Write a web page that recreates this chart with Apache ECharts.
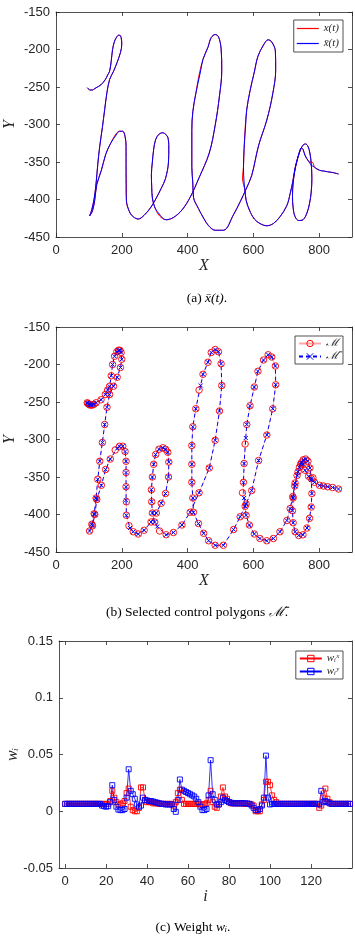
<!DOCTYPE html>
<html>
<head>
<meta charset="utf-8">
<script src="https://cdn.jsdelivr.net/npm/echarts@6/dist/echarts.min.js"></script>
<style>
  html, body { margin: 0; padding: 0; background: #fff; }
  #chart { width: 355px; height: 941px; }
</style>
</head>
<body>
<div id="chart"></div>
<script>
// control polygon M (red)
var mX = [95, 97, 100, 103, 107, 111, 115, 122, 137, 150, 157, 163, 168, 172, 178, 185, 190, 194, 198, 200,
  196, 186, 175, 163, 155, 148, 141, 133, 127, 122, 116, 109, 102, 111, 118, 124, 138, 151, 165, 180,
  193, 203, 210, 213, 213, 213, 214, 214, 222, 235, 250, 268, 289, 305, 320, 333, 342, 343, 340, 333,
  325, 313, 303, 297, 293, 290, 291, 293, 300, 315, 335, 357, 383, 408, 435, 466, 484, 497, 504, 502,
  494, 484, 472, 462, 447, 435, 425, 416, 413, 413, 413, 416, 418, 433, 449, 464, 484, 509, 540, 560,
  578, 595, 616, 641, 659, 668, 667, 656, 645, 631, 614, 603, 590, 580, 575, 572, 570, 567, 575, 578,
  588, 603, 620, 641, 661, 681, 702, 712, 720, 727, 736, 744, 752, 759, 766, 772, 776, 778, 776, 771,
  763, 751, 738, 727, 721, 719, 721, 726, 733, 740, 746, 751, 757, 768, 781, 786, 801, 813, 826, 841, 859];
var mY = [-251, -252, -253, -254, -254, -254, -253, -251, -247, -240, -234, -229, -215, -200, -189, -183, -181, -181, -184, -193,
  -204, -217, -229, -240, -257, -280, -304, -329, -353, -378, -399, -413, -422, -415, -400, -380, -361, -340, -326, -314,
  -309, -309, -316, -329, -344, -363, -383, -401, -415, -423, -426, -421, -410, -398, -385, -372, -350, -330, -317, -313,
  -311, -313, -320, -333, -350, -367, -383, -398, -410, -422, -427, -424, -414, -397, -371, -338, -301, -262, -228, -199,
  -183, -180, -184, -197, -213, -234, -259, -283, -308, -333, -357, -378, -397, -412, -425, -435, -441, -441, -420, -403,
  -386, -368, -328, -294, -259, -227, -202, -190, -187, -194, -209, -230, -255, -280, -306, -332, -357, -371, -389, -401,
  -414, -426, -432, -435, -432, -423, -408, -392, -376, -358, -343, -333, -327, -326, -329, -338, -352, -372, -390, -405,
  -418, -427, -428, -423, -411, -395, -378, -362, -348, -337, -331, -333, -341, -349, -351, -357, -361, -362, -363, -364, -366];
// selected control polygon M-bar (blue)
var mbX = [95, 97, 100, 103, 107, 111, 115, 122, 137, 150, 157, 163, 168, 172, 178, 185, 190, 194, 198, 200,
  196, 186, 175, 163, 155, 148, 141, 133, 127, 122, 116, 109, 102, 111, 118, 124, 138, 151, 165, 186,
  193, 203, 210, 213, 213, 213, 213, 214, 225, 235, 250, 268, 289, 305, 320, 333, 342, 343, 340, 333,
  325, 313, 303, 297, 293, 290, 291, 293, 300, 308, 335, 357, 383, 408, 435, 466, 484, 497, 504, 502,
  494, 484, 472, 462, 447, 440, 425, 416, 413, 413, 413, 416, 418, 433, 449, 464, 484, 509, 540, 560,
  578, 595, 616, 641, 659, 668, 667, 656, 645, 631, 614, 603, 590, 580, 577, 572, 570, 572, 575, 578,
  588, 603, 620, 641, 661, 681, 702, 712, 720, 727, 736, 744, 752, 759, 766, 772, 776, 778, 776, 771,
  763, 751, 738, 727, 721, 719, 721, 726, 733, 740, 746, 751, 757, 768, 776, 786, 801, 813, 826, 841, 859];
var mbY = [-251, -252, -253, -254, -254, -254, -253, -251, -247, -240, -234, -229, -215, -200, -189, -183, -181, -181, -184, -193,
  -204, -217, -229, -240, -257, -280, -304, -329, -353, -378, -399, -413, -422, -415, -400, -380, -361, -340, -326, -312,
  -309, -309, -316, -329, -344, -363, -381, -401, -418, -423, -426, -421, -410, -398, -385, -372, -350, -330, -317, -313,
  -311, -313, -320, -333, -350, -367, -383, -398, -410, -416, -427, -424, -414, -397, -371, -338, -301, -262, -228, -199,
  -183, -180, -184, -197, -213, -228, -259, -283, -308, -333, -357, -378, -397, -412, -425, -435, -441, -441, -420, -403,
  -386, -368, -328, -294, -259, -227, -202, -190, -187, -194, -209, -230, -255, -280, -298, -332, -357, -378, -389, -401,
  -414, -426, -432, -435, -432, -423, -408, -392, -376, -358, -343, -333, -327, -326, -329, -338, -352, -372, -390, -405,
  -418, -427, -428, -423, -411, -395, -378, -362, -348, -337, -331, -333, -341, -349, -354, -357, -361, -362, -363, -364, -366];

// weights, i = 0..139
var wX = [0.0065, 0.0065, 0.0065, 0.0065, 0.0065, 0.0065, 0.0065, 0.0065, 0.0065, 0.0065,
  0.0065, 0.0065, 0.0065, 0.0065, 0.0065, 0.0065, 0.0065, 0.0065, 0.0065, 0.0065,
  0.0065, 0.0065, 0.009, 0.018, 0.012, 0.008, 0.006, 0.006, 0.007, 0.009,
  0.016, 0.020, 0.004, 0.001, 0.000, 0.000, 0.003, 0.021, 0.021, 0.010,
  0.008, 0.008, 0.008, 0.007, 0.007, 0.007, 0.0065, 0.0065, 0.0065, 0.0065,
  0.0065, 0.0065, 0.0065, 0.005, 0.008, 0.016, 0.019, 0.010, 0.0065, 0.0065,
  0.0065, 0.0065, 0.0065, 0.0065, 0.0065, 0.0065, 0.006, 0.006, 0.006, 0.007,
  0.010, 0.018, 0.008, 0.004, 0.003, 0.006, 0.013, 0.021, 0.013, 0.011,
  0.008, 0.007, 0.007, 0.007, 0.007, 0.007, 0.007, 0.0068, 0.0065, 0.0065,
  0.0065, 0.006, 0.005, 0.000, 0.000, 0.000, 0.006, 0.010, 0.026, 0.026,
  0.023, 0.014, 0.010, 0.008, 0.0065, 0.0065, 0.0065, 0.0065, 0.0065, 0.0065,
  0.0065, 0.0065, 0.0065, 0.0065, 0.0065, 0.0065, 0.0065, 0.0065, 0.0065, 0.0065,
  0.0065, 0.0065, 0.0065, 0.0065, 0.003, 0.005, 0.012, 0.020, 0.011, 0.008,
  0.0065, 0.0065, 0.0065, 0.0065, 0.0065, 0.0065, 0.0065, 0.0065, 0.0065, 0.0065];
var wY = [0.0065, 0.0065, 0.0065, 0.0065, 0.0065, 0.0065, 0.0065, 0.0065, 0.0065, 0.0065,
  0.0065, 0.0065, 0.0065, 0.0065, 0.0065, 0.0065, 0.0065, 0.0065, 0.005, 0.0045,
  0.004, 0.0045, 0.008, 0.023, 0.010, 0.004, 0.0015, 0.001, 0.001, 0.002,
  0.012, 0.037, 0.018, 0.015, 0.011, 0.006, 0.004, 0.005, 0.012, 0.010,
  0.0095, 0.009, 0.009, 0.0085, 0.008, 0.0075, 0.007, 0.0065, 0.0065, 0.006,
  0.006, 0.006, 0.006, 0.002, -0.0005, 0.010, 0.028, 0.019, 0.018, 0.017,
  0.016, 0.015, 0.014, 0.013, 0.011, 0.008, 0.004, 0.001, 0.001, 0.002,
  0.014, 0.045, 0.015, 0.010, 0.006, 0.006, 0.008, 0.012, 0.010, 0.009,
  0.008, 0.0075, 0.007, 0.007, 0.007, 0.007, 0.007, 0.007, 0.007, 0.0068,
  0.0065, 0.005, 0.003, 0.001, 0.001, 0.002, 0.005, 0.012, 0.049, 0.012,
  0.006, 0.0065, 0.0065, 0.0065, 0.0065, 0.0065, 0.0065, 0.0065, 0.0065, 0.0065,
  0.0065, 0.0065, 0.0065, 0.0065, 0.0065, 0.0065, 0.0065, 0.0065, 0.0065, 0.0065,
  0.0065, 0.0065, 0.0065, 0.0065, 0.006, 0.018, 0.008, 0.009, 0.008, 0.007,
  0.0065, 0.0065, 0.0065, 0.0065, 0.0065, 0.0065, 0.0065, 0.0065, 0.0065, 0.0065];
var xTicksC = [0, 20, 40, 60, 80, 100, 120];

var RED = '#ff0000', BLUE = '#0000ff', INK = '#262626';
var SANS = 'Liberation Sans', SERIF = 'Liberation Serif';

function pairs(xs, ys) { return xs.map(function (x, i) { return [x, ys[i]]; }); }
function idx(ys) { return ys.map(function (y, i) { return [i, y]; }); }

var tickStyle = { inside: true, length: 4, lineStyle: { color: INK, width: 0.8 } };
var lineStyle = { show: true, onZero: false, lineStyle: { color: INK, width: 0.8 } };
var labelStyle = { color: INK, fontFamily: SANS, fontSize: 13, showMaxLabel: false };

function axisPair(kind, grid, min, max, interval, name, gap, extra) {
  extra = extra || {};
  var main = {
    type: 'value', gridIndex: grid, min: min, max: max, interval: interval,
    position: kind === 'x' ? 'bottom' : 'left',
    name: name, nameLocation: 'middle', nameGap: gap, nameMoveOverlap: false,
    nameTextStyle: { fontFamily: SERIF, fontStyle: 'italic', fontSize: 16, color: INK },
    axisLine: lineStyle, axisTick: Object.assign({}, tickStyle, extra.tick || {}),
    axisLabel: Object.assign({}, labelStyle, { margin: kind === 'x' ? 7 : 6 }, extra.label || {}),
    splitLine: { show: false }
  };
  var twin = {
    type: 'value', gridIndex: grid, min: min, max: max, interval: interval,
    position: kind === 'x' ? 'top' : 'right',
    axisLine: lineStyle, axisTick: Object.assign({}, tickStyle, extra.tick || {}),
    axisLabel: { show: false }, splitLine: { show: false }
  };
  return [main, twin];
}

var xa = axisPair('x', 0, 0, 900, 200, 'X', 21)
  .concat(axisPair('x', 1, 0, 900, 200, 'X', 21))
  .concat(axisPair('x', 2, -3, 140, null, 'i', 21, {
    tick: { customValues: xTicksC }, label: { customValues: xTicksC, showMaxLabel: true }
  }));
var ya = axisPair('y', 0, -450, -150, 50, 'Y', 38, { label: { showMaxLabel: true } })
  .concat(axisPair('y', 1, -450, -150, 50, 'Y', 38, { label: { showMaxLabel: true } }))
  .concat(axisPair('y', 2, -0.05, 0.15, 0.05, 'wᵢ', 38, {
    label: { showMaxLabel: true, formatter: function (v) { return String(+v.toFixed(2)); } }
  }));

function legendAt(top, items, extra) {
  return Object.assign({
    data: items, orient: 'vertical', right: 12, top: top,
    backgroundColor: '#fff', borderColor: INK, borderWidth: 0.8, borderRadius: 0,
    padding: [2, 4, 2, 3], itemGap: 2, itemWidth: 22, itemHeight: 8,
    textStyle: { fontFamily: SERIF, fontStyle: 'italic', fontSize: 11, color: INK }
  }, extra || {});
}
function hollow(name, color, icon) {
  return { name: name, icon: icon, itemStyle: { color: 'transparent', borderColor: color, borderWidth: 1 } };
}

var capStyle = {
  fontFamily: SERIF, fontSize: 13.5, fontWeight: 'normal', color: '#000',
  rich: {
    r: { fontFamily: SERIF, fontSize: 13.5, color: '#000' },
    i: { fontFamily: SERIF, fontSize: 13.5, fontStyle: 'italic', color: '#000' }
  }
};

var chart = echarts.init(document.getElementById('chart'), null, { renderer: 'canvas' });
chart.setOption({
  backgroundColor: '#fff',
  animation: false,
  title: [
    { text: '{r|(a) }{i|x̄(t)}{r|.}', left: 202, top: 286, textAlign: 'center', textStyle: capStyle },
    { text: '{r|(b) Selected control polygons }{i|ℳ̄}{r|.}', left: 192, top: 600, textAlign: 'center', textStyle: capStyle },
    { text: '{r|(c) Weight }{i|wᵢ}{r|.}', left: 188, top: 915, textAlign: 'center', textStyle: capStyle }
  ],
  grid: [
    { left: 56, top: 12, width: 296, height: 225, containLabel: false, outerBoundsMode: 'none' },
    { left: 56, top: 327, width: 296, height: 225, containLabel: false, outerBoundsMode: 'none' },
    { left: 59, top: 641, width: 293, height: 227, containLabel: false, outerBoundsMode: 'none' }
  ],
  legend: [
    legendAt(20, [
      { name: 'x(t)', icon: 'rect', itemStyle: { color: RED } },
      { name: 'x̄(t)', icon: 'rect', itemStyle: { color: BLUE } }
    ], { itemHeight: 1.2, itemGap: 4, padding: [3, 4, 3, 3] }),
    legendAt(336, [hollow('ℳ', RED), hollow('ℳ̄', BLUE)]),
    legendAt(651, [hollow('wᵢˣ', RED), hollow('wᵢʸ', BLUE)])
  ],
  xAxis: xa,
  yAxis: ya,
  series: [
    {
      name: 'x(t)', type: 'line', xAxisIndex: 0, yAxisIndex: 0, data: pairs(mX, mY),
      symbol: 'none', smooth: 0.35, itemStyle: { color: RED }, lineStyle: { color: RED, width: 1 }
    },
    {
      name: 'x̄(t)', type: 'line', xAxisIndex: 0, yAxisIndex: 0, data: pairs(mbX, mbY),
      symbol: 'none', smooth: 0.35, itemStyle: { color: BLUE }, lineStyle: { color: BLUE, width: 1 }
    },
    {
      name: 'ℳ', type: 'line', xAxisIndex: 2, yAxisIndex: 2, data: pairs(mX, mY),
      symbol: 'circle', symbolSize: 6.5,
      itemStyle: { color: 'transparent', borderColor: RED, borderWidth: 0.9 },
      lineStyle: { color: RED, width: 0.6, opacity: 0.35 }
    },
    {
      name: 'ℳ̄', type: 'line', xAxisIndex: 2, yAxisIndex: 2, data: pairs(mbX, mbY),
      symbol: 'path://M0,0L10,10M10,0L0,10', symbolSize: 4,
      itemStyle: { color: 'transparent', borderColor: BLUE, borderWidth: 1 },
      lineStyle: { color: BLUE, width: 1, type: [4, 3] }
    },
    {
      name: 'wᵢˣ', type: 'line', xAxisIndex: 4, yAxisIndex: 4, data: idx(wX),
      symbol: 'rect', symbolSize: 5,
      itemStyle: { color: 'transparent', borderColor: RED, borderWidth: 0.9 },
      lineStyle: { color: RED, width: 0.8 }
    },
    {
      name: 'wᵢʸ', type: 'line', xAxisIndex: 4, yAxisIndex: 4, data: idx(wY),
      symbol: 'rect', symbolSize: 5,
      itemStyle: { color: 'transparent', borderColor: BLUE, borderWidth: 0.9 },
      lineStyle: { color: BLUE, width: 0.8 }
    }
  ]
});
</script>
</body>
</html>
